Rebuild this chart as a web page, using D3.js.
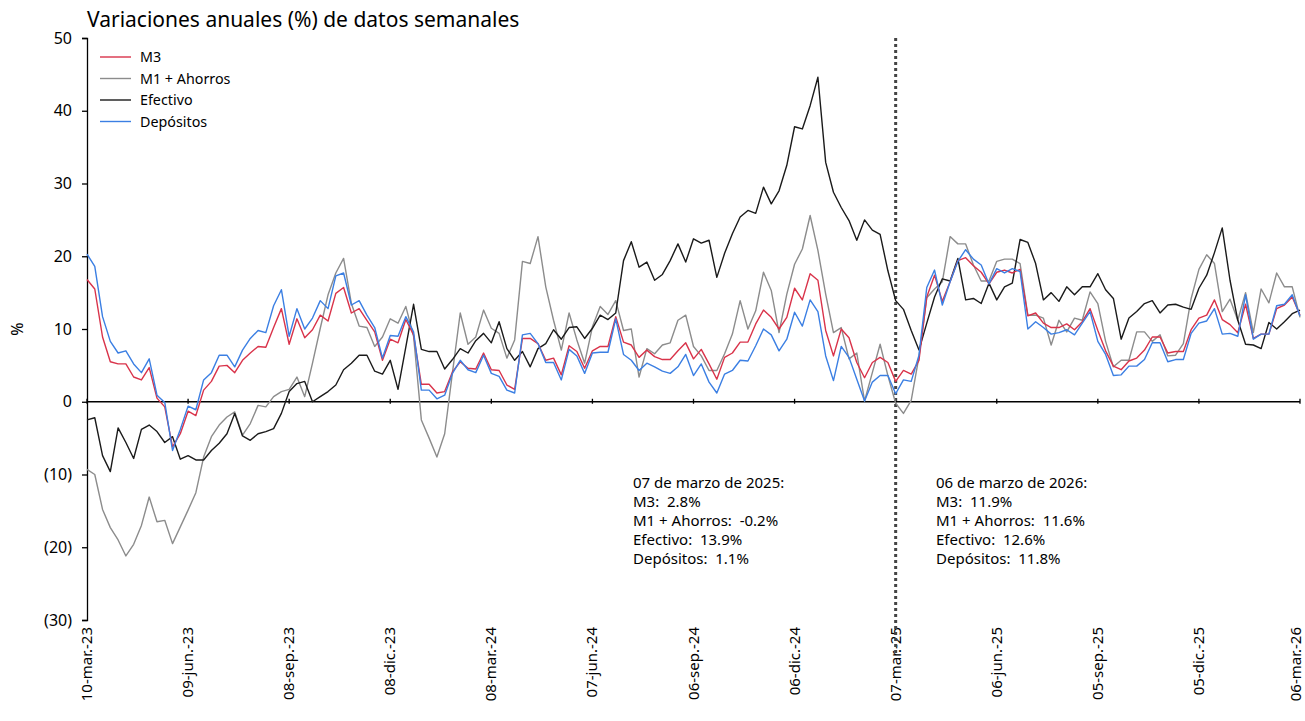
<!DOCTYPE html>
<html>
<head>
<meta charset="utf-8">
<script src="https://cdn.jsdelivr.net/npm/d3@7/dist/d3.min.js"></script>
<style>
  body { margin: 0; background: #fff; }
  text { font-family: "Segoe UI", "Noto Sans", "Open Sans", sans-serif; fill: #000; white-space: pre; }
</style>
</head>
<body>
<svg id="chart" width="1305" height="721"></svg>
<script>
// weekly data, first observation 10-mar-2023, one point per week
var firstWeek = "2023-03-10";
var tickLabels = ["10-mar.-23", "09-jun.-23", "08-sep.-23", "08-dic.-23", "08-mar.-24", "07-jun.-24",
  "06-sep.-24", "06-dic.-24", "07-mar.-25", "06-jun.-25", "05-sep.-25", "05-dic.-25", "06-mar.-26"];
var yTicks = [-30, -20, -10, 0, 10, 20, 30, 40, 50];

var m3 = [16.8, 15.5, 8.9, 5.5, 5.2, 5.2, 3.4, 3.0, 4.7, 0.5, -0.7, -6.2, -4.4, -1.3, -1.9,
  1.6, 2.8, 4.9, 5.0, 4.0, 5.7, 6.7, 7.6, 7.5, 10.2, 12.8, 7.9,
  11.4, 8.8, 9.9, 11.9, 11.1, 14.9, 15.7, 12.2, 12.8, 11.2, 9.6, 5.7, 8.6,
  8.1, 11.3, 9.2, 2.4, 2.4, 1.2, 1.4, 4.1, 5.5, 4.6, 4.5, 6.7, 4.4,
  4.3, 2.3, 1.7, 8.7, 8.7, 8.0, 5.7, 6.0, 3.7, 7.7, 6.9, 4.6, 7.0,
  7.6, 7.6, 11.7, 8.2, 7.8, 6.1, 7.1, 6.2, 5.8, 5.8, 7.0, 8.1, 5.9,
  7.2, 5.2, 3.1, 6.1, 6.7, 8.2, 8.2, 10.7, 12.6, 11.6, 10.0, 11.6, 15.6,
  14.0, 17.6, 16.7, 9.8, 6.3, 10.0, 8.8, 5.4, 3.3, 5.4, 6.1, 5.4, 2.8,
  4.3, 3.8, 5.7, 14.4, 17.4, 13.8, 16.5, 19.4, 19.8, 18.7, 17.8, 16.2, 17.8,
  18.1, 17.7, 18.2, 11.8, 12.2, 10.8, 10.2, 10.2, 10.7, 9.9, 11.0, 12.8, 9.8,
  7.0, 4.9, 4.4, 5.6, 6.0, 7.1, 8.9, 8.9, 6.7, 6.9, 6.9, 9.9, 11.5,
  11.9, 14.0, 11.3, 10.6, 9.5, 13.4, 8.7, 9.3, 9.3, 12.8, 13.3, 14.4, 11.9];

var m1Ahorros = [-9.3, -10.0, -14.8, -17.3, -19.0, -21.2, -19.6, -17.0, -13.1, -16.5, -16.3, -19.5, -17.2, -14.9, -12.5,
  -7.6, -4.8, -3.2, -2.1, -1.4, -4.6, -3.0, -0.5, -0.7, 0.7, 1.4, 1.7,
  3.4, 0.7, 5.3, 10.1, 14.7, 17.7, 19.7, 13.5, 10.4, 10.2, 7.6, 8.9, 11.4,
  10.8, 13.1, 9.0, -2.5, -5.0, -7.6, -4.4, 4.0, 12.2, 7.9, 8.9, 12.6, 10.1,
  9.4, 6.0, 8.5, 19.3, 19.0, 22.7, 15.8, 11.2, 7.1, 12.2, 8.5, 5.3, 10.3,
  13.1, 12.0, 13.9, 9.8, 10.0, 3.4, 7.3, 6.6, 7.8, 8.1, 11.2, 11.9, 7.6,
  6.3, 4.3, 4.3, 6.6, 9.3, 13.9, 10.0, 12.5, 17.8, 15.3, 9.5, 14.8, 18.9,
  21.0, 25.6, 20.8, 14.8, 9.5, 10.2, 5.9, 6.7, 0.1, 4.0, 7.9, 3.6, -0.2,
  -1.6, 0.2, 6.2, 14.3, 15.5, 16.5, 22.7, 21.7, 21.7, 18.8, 16.6, 16.6, 19.3,
  19.6, 19.6, 19.0, 11.9, 11.9, 11.5, 7.8, 11.2, 9.6, 11.5, 11.2, 15.1, 13.5,
  8.3, 4.8, 5.7, 5.7, 9.6, 9.6, 8.3, 9.2, 6.3, 6.4, 8.0, 14.2, 18.2,
  20.2, 19.0, 12.4, 14.1, 11.2, 15.0, 9.5, 15.5, 13.6, 17.7, 15.8, 15.8, 11.6];

var efectivo = [-2.5, -2.2, -7.4, -9.6, -3.6, -5.6, -7.8, -3.8, -3.2, -4.1, -5.6, -4.8, -7.9, -7.4, -8.0,
  -8.0, -6.7, -5.7, -4.4, -1.6, -4.7, -5.3, -4.4, -4.1, -3.7, -1.6, 1.4,
  2.5, 2.8, 0.0, 0.7, 1.4, 2.3, 4.4, 5.3, 6.4, 6.4, 4.2, 3.8, 5.7,
  1.7, 7.5, 13.4, 7.2, 6.9, 6.9, 4.5, 5.8, 7.3, 6.7, 8.4, 9.4, 8.1,
  11.0, 7.3, 5.7, 6.9, 4.8, 7.3, 8.0, 9.9, 8.6, 10.2, 10.3, 8.7, 10.1,
  11.9, 11.3, 12.2, 19.4, 22.0, 18.5, 19.2, 16.7, 17.5, 19.4, 21.7, 19.2, 22.4,
  21.8, 22.2, 17.1, 20.4, 23.1, 25.4, 26.3, 25.9, 29.5, 27.2, 29.0, 32.5, 37.8,
  37.5, 40.7, 44.6, 32.9, 28.8, 26.7, 24.9, 22.2, 25.0, 23.6, 23.0, 18.0, 13.9,
  12.7, 9.8, 7.1, 10.8, 14.4, 16.9, 16.6, 19.7, 14.0, 14.2, 13.5, 16.3, 14.0,
  15.8, 16.3, 22.3, 21.9, 19.0, 14.0, 15.0, 13.8, 15.8, 14.7, 15.8, 15.8, 17.6,
  15.4, 14.2, 8.6, 11.5, 12.4, 13.5, 13.9, 12.2, 13.3, 13.4, 13.0, 12.7, 15.6,
  17.4, 20.5, 23.9, 16.7, 11.2, 7.9, 7.8, 7.3, 10.9, 10.0, 11.0, 12.1, 12.6];

var depositos = [20.3, 18.6, 11.7, 8.3, 6.7, 7.0, 5.2, 4.0, 5.9, 0.9, -0.1, -6.7, -3.8, -0.6, -1.1,
  3.0, 4.0, 6.4, 6.4, 4.8, 7.1, 8.7, 9.8, 9.5, 13.2, 15.4, 9.0,
  12.8, 10.0, 11.5, 13.9, 12.8, 17.3, 17.7, 13.3, 13.9, 11.9, 10.2, 6.0, 9.1,
  9.0, 11.7, 9.6, 1.6, 1.6, 0.4, 0.9, 3.9, 5.7, 4.4, 4.0, 6.4, 3.9,
  3.5, 1.6, 1.2, 9.2, 9.4, 8.0, 5.4, 5.4, 3.0, 7.2, 6.3, 3.9, 6.7,
  6.8, 6.8, 11.4, 6.5, 5.7, 4.3, 5.3, 4.8, 4.2, 3.9, 4.8, 6.5, 3.6,
  5.2, 2.7, 1.2, 3.8, 4.3, 5.7, 5.6, 7.7, 10.0, 9.2, 7.0, 8.6, 12.3,
  10.4, 14.0, 12.4, 6.3, 2.9, 7.6, 6.1, 3.1, 0.1, 2.7, 3.6, 3.6, 1.1,
  3.0, 2.8, 6.4, 15.7, 18.1, 13.3, 16.5, 19.3, 20.9, 19.6, 18.8, 16.2, 18.3,
  17.7, 18.3, 17.9, 10.0, 11.0, 10.2, 9.3, 9.5, 9.9, 9.2, 10.8, 12.4, 8.3,
  6.5, 3.6, 3.7, 4.9, 4.9, 5.8, 8.1, 8.1, 5.5, 5.8, 5.8, 9.4, 10.8,
  11.1, 12.8, 9.3, 9.4, 9.0, 14.7, 8.6, 9.3, 9.3, 13.2, 13.4, 14.7, 11.8];

var seriesNames = ["M3", "M1 + Ahorros", "Efectivo", "Depósitos"];
var seriesColors = ["#d9334a", "#8c8c8c", "#1a1a1a", "#3b7fe3"];
var markerWeek = "2025-03-07";
var note1 = ["07 de marzo de 2025:", "M3:  2.8%", "M1 + Ahorros:  -0.2%", "Efectivo:  13.9%", "Depósitos:  1.1%"];
var note2 = ["06 de marzo de 2026:", "M3:  11.9%", "M1 + Ahorros:  11.6%", "Efectivo:  12.6%", "Depósitos:  11.8%"];

var svg = d3.select("#chart");
var plotLeft = 87, plotRight = 1300, plotTop = 38, plotBottom = 620;

var start = d3.timeParse("%Y-%m-%d")(firstWeek);
var dates = m3.map(function(d, i) { return d3.timeWeek.offset(start, i); });

var x = d3.scaleTime().domain([dates[0], dates[dates.length - 1]]).range([plotLeft, plotRight]);
var y = d3.scaleLinear().domain([-30, 50]).range([plotBottom, plotTop]);

// title
svg.append("text").attr("x", 87).attr("y", 27).style("font-size", "21px")
  .text("Variaciones anuales (%) de datos semanales");

// y axis
var yAxis = svg.append("g").attr("transform", "translate(" + plotLeft + ",0)")
  .call(d3.axisLeft(y).tickValues(yTicks).tickSize(5).tickPadding(10)
    .tickFormat(function(d) { return d < 0 ? "(" + (-d) + ")" : d; }));
yAxis.selectAll("path, line").attr("stroke", "#000").attr("stroke-width", 1.3);
yAxis.selectAll("text").style("font-size", "16px").style("font-family", "'Segoe UI','Noto Sans',sans-serif");

svg.append("text").attr("transform", "translate(23," + y(10) + ") rotate(-90)")
  .attr("text-anchor", "middle").style("font-size", "16px").text("%");

// x axis on the zero line, labels at the bottom
var tickDates = tickLabels.map(function(t, i) { return dates[i * 13]; });
svg.append("line").attr("x1", plotLeft).attr("x2", plotRight).attr("y1", y(0)).attr("y2", y(0))
  .attr("stroke", "#000").attr("stroke-width", 1.6);
svg.selectAll(".xt").data(tickDates).enter().append("line")
  .attr("x1", function(d) { return x(d); }).attr("x2", function(d) { return x(d); })
  .attr("y1", y(0) - 3).attr("y2", y(0) + 2).attr("stroke", "#000").attr("stroke-width", 1.3);
svg.selectAll(".xl").data(tickLabels).enter().append("text")
  .attr("transform", function(d, i) {
    var tx = Math.min(x(tickDates[i]) + 5, 1301);
    return "translate(" + tx + "," + (plotBottom + 7) + ") rotate(-90)";
  })
  .attr("text-anchor", "end").style("font-size", "15px").text(function(d) { return d; });

// vertical marker
var mx = x(d3.timeParse("%Y-%m-%d")(markerWeek));
svg.append("line").attr("x1", mx).attr("x2", mx).attr("y1", plotTop).attr("y2", plotBottom + 35)
  .attr("stroke", "#444").attr("stroke-width", 3).attr("stroke-dasharray", "3,3");

// series
var allSeries = [m3, m1Ahorros, efectivo, depositos];
var drawOrder = [1, 2, 0, 3];
var line = d3.line().x(function(d, i) { return x(dates[i]); }).y(function(d) { return y(d); });
drawOrder.forEach(function(k) {
  svg.append("path").datum(allSeries[k]).attr("d", line).attr("fill", "none")
    .attr("stroke", seriesColors[k]).attr("stroke-width", 1.4).attr("stroke-linejoin", "round");
});

// legend
seriesNames.forEach(function(name, i) {
  var ly = 57 + i * 21.5;
  svg.append("line").attr("x1", 100).attr("x2", 131).attr("y1", ly).attr("y2", ly)
    .attr("stroke", seriesColors[i]).attr("stroke-width", 1.4);
  svg.append("text").attr("x", 140).attr("y", ly + 5).style("font-size", "14.3px").text(name);
});

// notes
function note(lines, nx) {
  lines.forEach(function(t, i) {
    svg.append("text").attr("x", nx).attr("y", 488 + i * 19).style("font-size", "15px").text(t);
  });
}
note(note1, 633);
note(note2, 936);
</script>
</body>
</html>
